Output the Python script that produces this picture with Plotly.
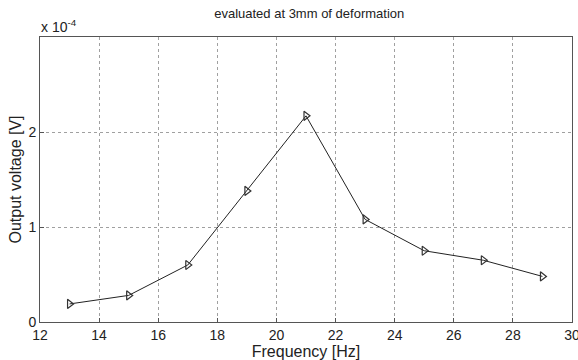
import plotly.graph_objects as go

freq = [13, 15, 17, 19, 21, 23, 25, 27, 29]
voltage_e4 = [0.19, 0.28, 0.60, 1.38, 2.17, 1.08, 0.75, 0.65, 0.48]
xticks = [12, 14, 16, 18, 20, 22, 24, 26, 28, 30]
yticks = [0, 1, 2]

font = "Liberation Sans, Arial, sans-serif"

fig = go.Figure()
fig.add_trace(go.Scatter(
    x=freq, y=voltage_e4, mode="lines+markers",
    line=dict(color="#222222", width=1),
    marker=dict(symbol="triangle-right-open", size=8, color="#333333", line=dict(width=1.2)),
    showlegend=False,
))

fig.update_layout(
    width=578, height=360,
    margin=dict(l=40, r=6, t=37, b=38),
    paper_bgcolor="white", plot_bgcolor="white",
    font=dict(family=font, color="#222222"),
    title=dict(text="evaluated at 3mm of deformation", x=0.535, xanchor="center",
               y=0.975, yanchor="top", font=dict(size=13, family=font)),
    annotations=[dict(text="x 10<sup>-4</sup>", xref="paper", yref="paper",
                      x=0.0, y=1.0, xanchor="left", yanchor="bottom", showarrow=False,
                      font=dict(size=14, family=font), xshift=-1, yshift=0)],
)
fig.update_xaxes(
    range=[12, 30], tickvals=xticks, ticktext=[str(v) for v in xticks],
    showgrid=True, gridcolor="#a0a0a0", griddash="dot", gridwidth=1,
    showline=True, linecolor="#555555", linewidth=1, mirror=True,
    ticks="inside", ticklen=4, tickcolor="#555555",
    tickfont=dict(size=14, family=font), ticklabeloverflow="allow", automargin=False,
    title=dict(text="Frequency [Hz]", font=dict(size=16, family=font), standoff=0),
    zeroline=False,
)
fig.update_yaxes(
    range=[0, 3], tickvals=yticks, ticktext=[str(v) for v in yticks],
    showgrid=True, gridcolor="#a0a0a0", griddash="dot", gridwidth=1,
    showline=True, linecolor="#555555", linewidth=1, mirror=True,
    ticks="inside", ticklen=4, tickcolor="#555555",
    tickfont=dict(size=14, family=font), automargin=False,
    title=dict(text="Output voltage [V]", font=dict(size=16, family=font), standoff=2),
    zeroline=False,
)

fig.write_html("out.html")
